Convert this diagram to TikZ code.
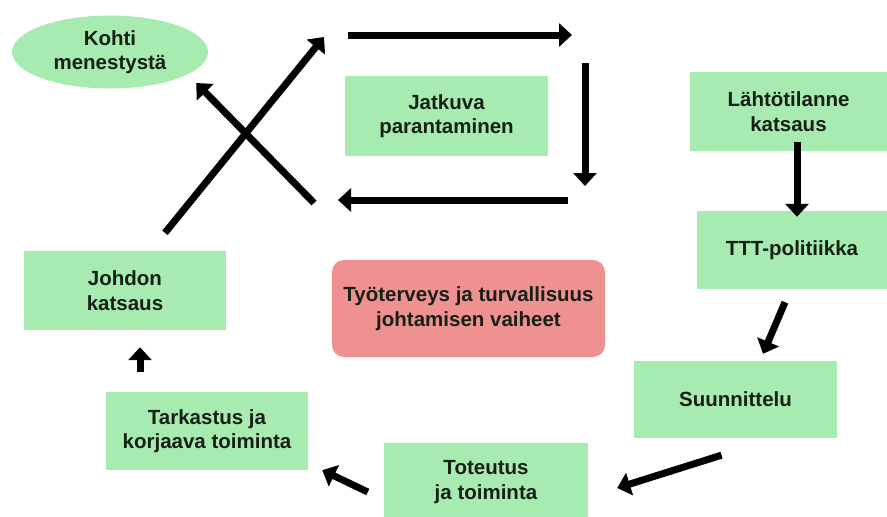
\documentclass[tikz,border=0pt]{standalone}
\usepackage{fontspec}
\setmainfont{Liberation Sans}
\usetikzlibrary{arrows.meta,calc,shapes.geometric}
\definecolor{boxgreen}{RGB}{168,235,176}
\definecolor{boxred}{RGB}{240,145,145}
\definecolor{txt}{RGB}{22,32,22}
\tikzset{
  lbl/.style={inner sep=0pt,align=center,text=txt,
    font=\bfseries\fontsize{20.5}{24.5}\selectfont},
  gbox/.style={lbl,rectangle,fill=boxgreen},
  rbox/.style={lbl,rectangle,rounded corners=12pt,fill=boxred},
  gell/.style={lbl,ellipse,fill=boxgreen},
  flow/.style={line width=7pt,-{Triangle[length=13pt,width=23pt]}}
}
\begin{document}
\begin{tikzpicture}[x=1pt,y=-1pt]
\useasboundingbox[fill=white] (0,0) rectangle (887,517);
% nodes
\node[gell,minimum width=196pt,minimum height=73pt] (kohti) at (110,52) {Kohti\\menestystä};
\node[gbox,minimum width=203pt,minimum height=80pt] (jatkuva) at (446.5,116) {Jatkuva\\parantaminen};
\node[gbox,minimum width=197pt,minimum height=79pt] (lahto) at (788.5,111.5) {Lähtötilanne\\katsaus};
\node[gbox,minimum width=190pt,minimum height=78pt] (ttt) at (792,250) {TTT-politiikka};
\node[gbox,minimum width=203pt,minimum height=77pt] (suunn) at (735.5,399.5) {Suunnittelu};
\node[gbox,minimum width=204pt,minimum height=78pt] (toteutus) at (486,482) {Toteutus\\ja toiminta};
\node[gbox,minimum width=202pt,minimum height=78pt] (tarkastus) at (207,431) {Tarkastus ja\\korjaava toiminta};
\node[gbox,minimum width=202pt,minimum height=79pt] (johdon) at (125,290.5) {Johdon\\katsaus};
\node[rbox,minimum width=273pt,minimum height=97pt] (tyo) at (468.5,308.5) {Työterveys ja turvallisuus\\johtamisen vaiheet};
% cycle coordinates
\coordinate (t1) at (348,35);
\coordinate (t2) at (572,35);
\coordinate (r1) at (585,63);
\coordinate (r2) at (585,186);
\coordinate (b1) at (568,200);
\coordinate (b2) at (338,200);
\coordinate (x2) at (324,37);
\coordinate (y1) at (314,203);
% arrows
\draw[flow] ([xshift=8.5pt,yshift=9pt]lahto.south) -- ([xshift=5pt,yshift=-6pt]ttt.north);
\draw[flow] ($(ttt.south)+(-7,13)$) -- ($(suunn.north)+(27.5,-7)$);
\draw[flow] ($(suunn.south)+(-14,17)$) -- ($(toteutus.east)+(29,6)$);
\draw[flow] ($(toteutus.west)+(-16,10)$) -- ($(tarkastus.south east)+(14,0)$);
\draw[flow] ($(tarkastus.north)+(-67,-20)$) -- ($(johdon.south)+(15,17)$);
\draw[flow] ($(johdon.north)+(40,-18)$) -- (x2);
\draw[flow] (t1) -- (t2);
\draw[flow] (r1) -- (r2);
\draw[flow] (b1) -- (b2);
\draw[flow] (y1) -- ($(kohti.east)+(-12,31)$);
\end{tikzpicture}
\end{document}
